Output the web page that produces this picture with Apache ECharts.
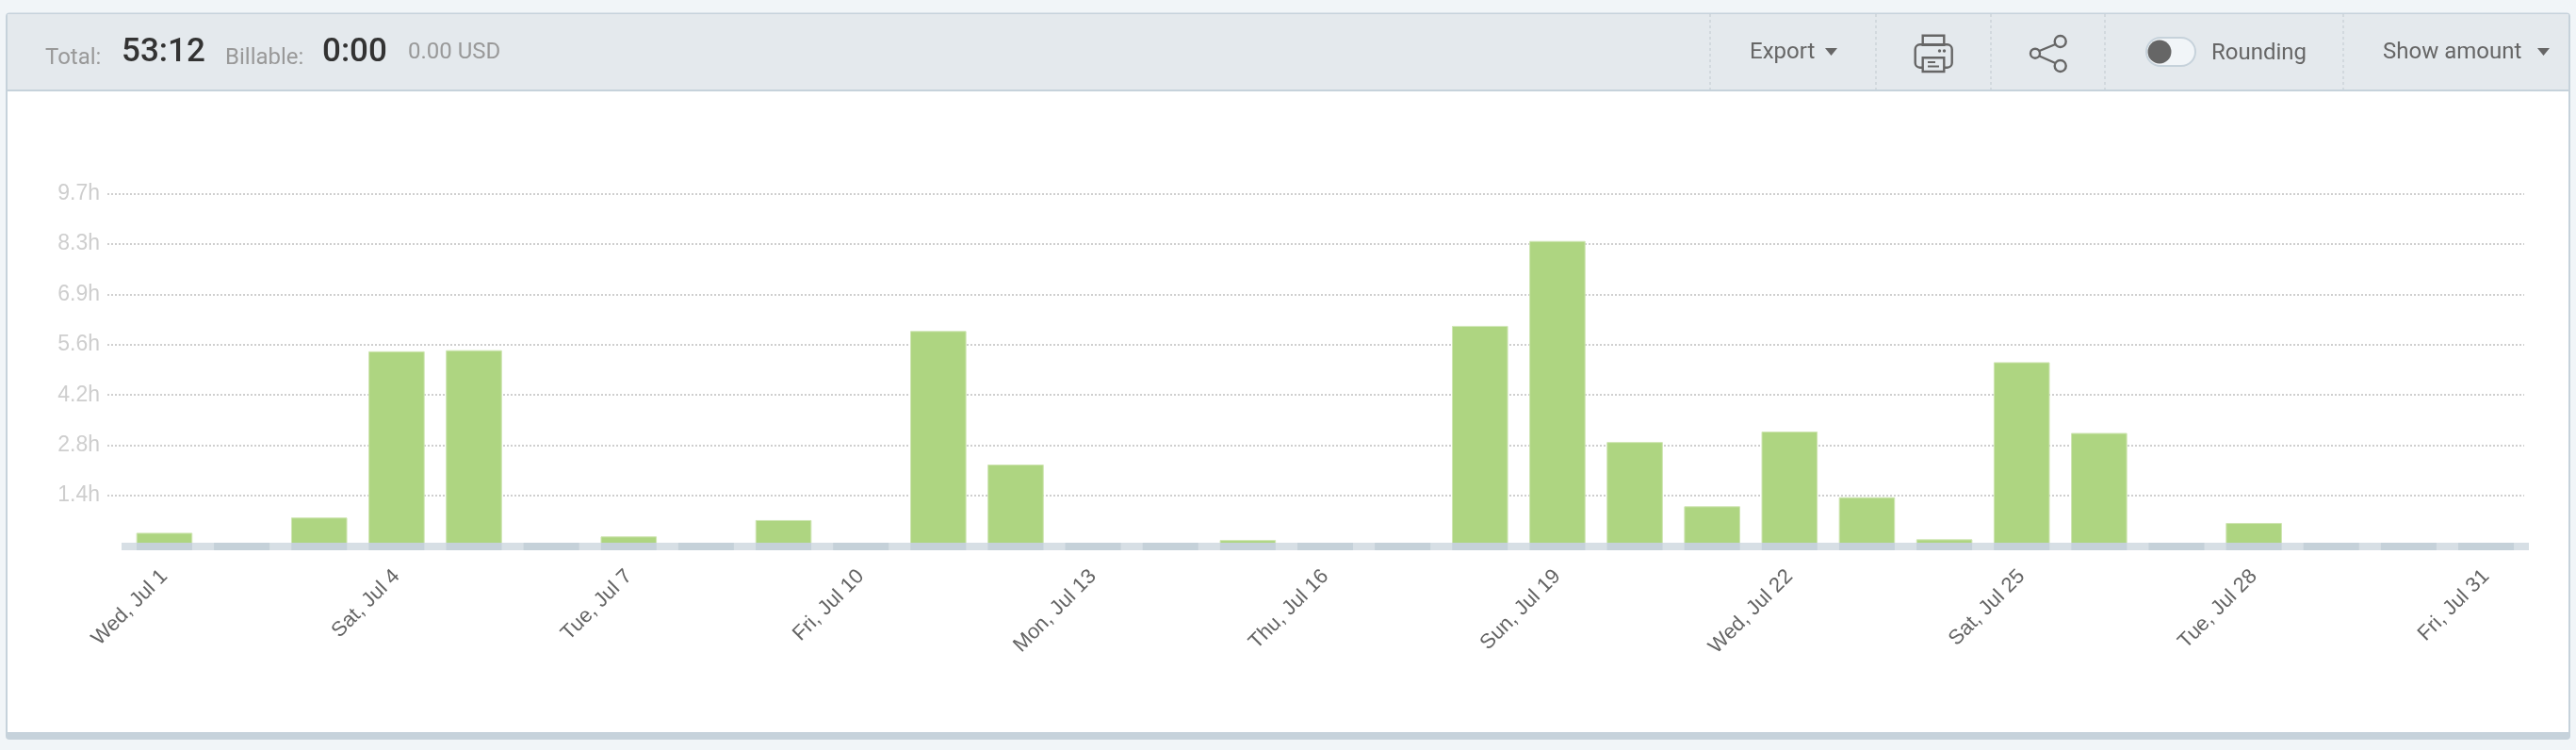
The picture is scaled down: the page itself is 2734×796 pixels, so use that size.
<!DOCTYPE html>
<html>
<head>
<meta charset="utf-8">
<style>html,body{margin:0;padding:0;background:#f1f5f8;overflow:hidden}#c{width:2734px;height:796px}</style>
<script src="https://cdn.jsdelivr.net/npm/echarts@6/dist/echarts.min.js"></script>
</head>
<body>
<div id="c"></div>
<script>
const categories = ["Wed, Jul 1","Thu, Jul 2","Fri, Jul 3","Sat, Jul 4","Sun, Jul 5","Mon, Jul 6","Tue, Jul 7","Wed, Jul 8","Thu, Jul 9","Fri, Jul 10","Sat, Jul 11","Sun, Jul 12","Mon, Jul 13","Tue, Jul 14","Wed, Jul 15","Thu, Jul 16","Fri, Jul 17","Sat, Jul 18","Sun, Jul 19","Mon, Jul 20","Tue, Jul 21","Wed, Jul 22","Thu, Jul 23","Fri, Jul 24","Sat, Jul 25","Sun, Jul 26","Mon, Jul 27","Tue, Jul 28","Wed, Jul 29","Thu, Jul 30","Fri, Jul 31"];
const hours = [0.36,0,0.78,5.36,5.39,0,0.26,0,0.71,0,5.92,2.24,0,0,0.16,0,0,6.06,8.40,2.86,1.09,3.15,1.34,0.18,5.06,3.11,0,0.63,0,0,0];
const yTickLabels = ["","1.4h","2.8h","4.2h","5.6h","6.9h","8.3h","9.7h"];
const yMax = 9.7;

const FONT = 'Roboto';
const BG = -10, FG = -5;
function txt(text, x, y, size, fill, weight, align) {
  return {type:'text', z:FG, style:{text, x, y, fontFamily:FONT, fontSize:size, fontWeight:weight||400, fill, align:align||'left', verticalAlign:'middle'}};
}
function rect(x,y,w,h,fill,r,z){return {type:'rect', z:z===undefined?BG:z, shape:{x,y,width:w,height:h,r:r||0}, style:{fill}};}
function sep(x){return {type:'line', z:FG, shape:{x1:x,y1:15,x2:x,y2:95}, style:{stroke:'#d2d9de', lineWidth:2, lineDash:[3,3]}};}
function tri(x,y){return {type:'polygon', z:FG, shape:{points:[[x,y],[x+13,y],[x+6.5,y+8]]}, style:{fill:'#666'}};}
const ic = {stroke:'#666', lineWidth:2.4, fill:'none'};
const hdr = {fill:'#e4e9ed', stroke:'#666', lineWidth:2.4};

const graphics = [
  rect(6,13.5,2722,771.5,'#c6d2db',4,BG-3),
  rect(8,15,2718,80,'#e4e9ed',0,BG-2),
  rect(8,97,2718,680,'#ffffff',0,BG-2),
  txt('Total:',48,62,24,'#999',400),
  txt('53:12',129,56,35,'#333',500),
  txt('Billable:',239,62,24,'#999',400),
  txt('0:00',342,56,35,'#333',500),
  txt('0.00 USD',433,56,24,'#999',400),
  sep(1815),sep(1991),sep(2113),sep(2234),sep(2487),
  txt('Export',1857,56,24,'#666',400), tri(1937,51),
  // printer
  {type:'rect',z:FG,shape:{x:2040.7,y:37.7,width:22.6,height:10},style:ic},
  {type:'rect',z:FG,shape:{x:2032.7,y:47.3,width:39,height:24.4,r:5},style:ic},
  {type:'rect',z:FG,shape:{x:2040.7,y:61.3,width:22.6,height:14.7},style:hdr},
  {type:'line',z:FG,shape:{x1:2046,y1:66,x2:2054,y2:66},style:{stroke:'#666',lineWidth:2}},
  {type:'line',z:FG,shape:{x1:2046,y1:70.5,x2:2058,y2:70.5},style:{stroke:'#666',lineWidth:2}},
  {type:'circle',z:FG,shape:{cx:2058.5,cy:54,r:1.7},style:{fill:'#666'}},
  {type:'circle',z:FG,shape:{cx:2063.5,cy:54,r:1.7},style:{fill:'#666'}},
  // share
  {type:'line',z:FG,shape:{x1:2164.5,y1:54,x2:2181.5,y2:47},style:ic},
  {type:'line',z:FG,shape:{x1:2164.5,y1:59.5,x2:2181.5,y2:67},style:ic},
  {type:'circle',z:FG,shape:{cx:2186.7,cy:44,r:6},style:ic},
  {type:'circle',z:FG,shape:{cx:2186.7,cy:70,r:6},style:ic},
  {type:'circle',z:FG,shape:{cx:2160,cy:56.7,r:5},style:ic},
  // toggle
  {type:'rect',z:FG,shape:{x:2278,y:40,width:52,height:30,r:15},style:{fill:'#f1f5f8',stroke:'#c6d2db',lineWidth:2}},
  {type:'circle',z:FG,shape:{cx:2292,cy:55,r:12.5},style:{fill:'#666'}},
  txt('Rounding',2347,57,24,'#666',400),
  txt('Show amount',2529,56,24,'#666',400), tri(2693,51),
  // axis band
  rect(129,576,2555,8,'#d7dfe5',0,3)
];

const chart = echarts.init(document.getElementById('c'), null, {renderer:'canvas', width:2734, height:796});
const plotTop = 205.67, plotH = 373.63;
chart.setOption({
  animation:false,
  backgroundColor:'#f1f5f8',
  graphic:{elements:graphics},
  grid:[
    {left:114, width:2565, top:plotTop, height:plotH},
    {left:133.4, width:2546.2, top:plotTop, height:plotH}
  ],
  xAxis:[
    {type:'category', gridIndex:0, data:categories, show:false},
    {type:'category', gridIndex:1, data:categories, boundaryGap:true,
      axisLine:{show:false}, axisTick:{show:false},
      axisLabel:{interval:2, rotate:45, fontFamily:'Liberation Sans', fontSize:22, color:'#646464', margin:29}}
  ],
  yAxis:[
    {type:'value', gridIndex:0, min:0, max:yMax, interval:yMax/7,
      axisLine:{show:false}, axisTick:{show:false},
      splitLine:{show:true, showMinLine:false, lineStyle:{color:'#cfcfcf', width:2, type:[2,2]}},
      axisLabel:{margin:8, fontFamily:'Liberation Sans', fontSize:23, color:'#cecece',
        formatter:(v)=>yTickLabels[Math.round(v/(yMax/7))]}},
    {type:'value', gridIndex:1, min:0, max:yMax, interval:yMax/7, show:false, splitLine:{show:false}}
  ],
  series:[
    {type:'bar', name:'Hours', xAxisIndex:1, yAxisIndex:1, data:hours, barWidth:59.6, z:2,
      itemStyle:{color:'#aed581', borderColor:'#cfe5b3', borderWidth:1}},
    {type:'custom', name:'Track', xAxisIndex:1, yAxisIndex:1, z:4, silent:true,
      data:hours.map((_,i)=>[i,0]),
      encode:{x:0,y:1},
      renderItem:(p,api)=>{
        const c = api.coord([api.value(0),0]);
        return {type:'rect', shape:{x:c[0]-29.5,y:c[1]-3.3,width:59,height:8}, style:{fill:'#c5d1d9'}};
      }}
  ]
});
</script>
</body>
</html>
